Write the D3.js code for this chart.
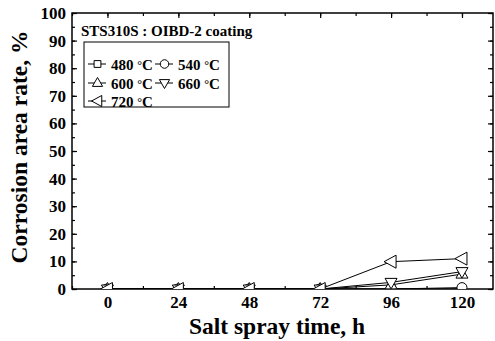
<!DOCTYPE html>
<html>
<head>
<meta charset="utf-8">
<script src="https://cdn.jsdelivr.net/npm/d3@7"></script>
<style>
  body { margin: 0; background: #fff; }
  text { font-family: "Liberation Serif", "Times New Roman", serif; font-weight: bold; fill: #000; }
</style>
</head>
<body>
<svg id="chart" width="495" height="341"></svg>
<script>
var hours = [0, 24, 48, 72, 96, 120];
var yTicks = [0, 10, 20, 30, 40, 50, 60, 70, 80, 90, 100];

var s480 = [0, 0, 0, 0, 0, 0];
var s540 = [0, 0, 0, 0, 0, 0.5];
var s600 = [0, 0, 0, 0, 1.5, 5.4];
var s660 = [0, 0, 0, 0, 2.4, 6.3];
var s720 = [0, 0, 0, 0, 9.9, 11];

var series = [
  { name: "480", shape: "square", values: s480 },
  { name: "540", shape: "circle", values: s540 },
  { name: "600", shape: "up", values: s600 },
  { name: "660", shape: "down", values: s660 },
  { name: "720", shape: "left", values: s720 }
];

var svg = d3.select("#chart");
var pLeft = 72, pRight = 493, pTop = 13, pBottom = 289;

var x = d3.scaleLinear().domain([-12, 130.5]).range([pLeft, pRight]);
var y = d3.scaleLinear().domain([0, 100]).range([pBottom, pTop]);

function markerPath(shape, k) {
  if (shape == "square") return "M" + (-4 * k) + "," + (-4 * k) + "h" + (8 * k) + "v" + (8 * k) + "h" + (-8 * k) + "Z";
  if (shape == "up") return "M0," + (-6.5 * k) + "L" + (6 * k) + "," + (4 * k) + "H" + (-6 * k) + "Z";
  if (shape == "down") return "M0," + (6.5 * k) + "L" + (6 * k) + "," + (-4 * k) + "H" + (-6 * k) + "Z";
  if (shape == "left") return "M" + (-7 * k) + ",0L" + (5 * k) + "," + (-6.5 * k) + "V" + (6.5 * k) + "Z";
  return null;
}

function drawMarker(g, shape, k) {
  if (shape == "circle") {
    g.append("circle").attr("r", 5 * k)
      .attr("fill", "#fff").attr("stroke", "#000").attr("stroke-width", 1);
  } else {
    g.append("path").attr("d", markerPath(shape, k))
      .attr("fill", "#fff").attr("stroke", "#000").attr("stroke-width", 1);
  }
}

svg.append("clipPath").attr("id", "plotclip")
  .append("rect").attr("x", pLeft).attr("y", pTop).attr("width", pRight - pLeft).attr("height", pBottom - pTop);

// axes (ticks inward on all four sides)
var xMinor = d3.range(-12, 131, 12);
var yMinor = d3.range(0, 101, 5);

svg.append("g").attr("transform", "translate(0," + pBottom + ")")
  .call(d3.axisBottom(x).tickValues(xMinor).tickSize(-3).tickFormat(""));
svg.append("g").attr("class", "lab").attr("transform", "translate(0," + pBottom + ")")
  .call(d3.axisBottom(x).tickValues(hours).tickSize(-5).tickPadding(7).tickFormat(d3.format("d")));
svg.append("g").attr("transform", "translate(0," + pTop + ")")
  .call(d3.axisTop(x).tickValues(xMinor).tickSize(-3).tickFormat(""));
svg.append("g").attr("transform", "translate(0," + pTop + ")")
  .call(d3.axisTop(x).tickValues(hours).tickSize(-5).tickFormat(""));

svg.append("g").attr("transform", "translate(" + pLeft + ",0)")
  .call(d3.axisLeft(y).tickValues(yMinor).tickSize(-3).tickFormat(""));
svg.append("g").attr("class", "lab").attr("transform", "translate(" + pLeft + ",0)")
  .call(d3.axisLeft(y).tickValues(yTicks).tickSize(-5).tickPadding(6).tickFormat(d3.format("d")));
svg.append("g").attr("transform", "translate(" + pRight + ",0)")
  .call(d3.axisRight(y).tickValues(yMinor).tickSize(-3).tickFormat(""));
svg.append("g").attr("transform", "translate(" + pRight + ",0)")
  .call(d3.axisRight(y).tickValues(yTicks).tickSize(-5).tickFormat(""));

svg.selectAll(".domain").remove();
svg.selectAll(".tick line").attr("stroke", "#000").attr("stroke-width", 1.2);
svg.selectAll(".lab .tick text").style("font-size", "17px").style("font-family", "Liberation Serif").style("font-weight", "bold");

svg.append("rect").attr("x", pLeft).attr("y", pTop).attr("width", pRight - pLeft).attr("height", pBottom - pTop)
  .attr("fill", "none").attr("stroke", "#000").attr("stroke-width", 1.5);

// data
var plot = svg.append("g").attr("clip-path", "url(#plotclip)");
var line = d3.line().x(function(d, i) { return x(hours[i]); }).y(function(d) { return y(d); });

plot.selectAll("path.series")
  .data(series)
  .enter().append("path")
  .attr("class", "series")
  .attr("d", function(d) { return line(d.values); })
  .attr("fill", "none").attr("stroke", "#000").attr("stroke-width", 1);

series.forEach(function(s) {
  s.values.forEach(function(v, i) {
    var g = plot.append("g").attr("transform", "translate(" + x(hours[i]) + "," + y(v) + ")");
    drawMarker(g, s.shape, 1);
  });
});

// legend
svg.append("text").attr("x", 81).attr("y", 36).style("font-size", "15px").text("STS310S : OIBD-2 coating");
svg.append("rect").attr("x", 84).attr("y", 42).attr("width", 145).attr("height", 65)
  .attr("fill", "#fff").attr("stroke", "#000").attr("stroke-width", 1);

var legendPos = [[88, 64], [155, 64], [88, 83], [155, 83], [88, 101]];
series.forEach(function(s, i) {
  var p = legendPos[i];
  var g = svg.append("g").attr("transform", "translate(" + p[0] + "," + p[1] + ")");
  g.append("line").attr("x1", 0).attr("x2", 18).attr("y1", 0).attr("y2", 0).attr("stroke", "#000");
  var m = g.append("g").attr("transform", "translate(9.5,0)");
  drawMarker(m, s.shape, 0.85);
  var t = g.append("text").attr("x", 23).attr("y", 5.5).style("font-size", "15px");
  t.append("tspan").text(s.name + " ");
  t.append("tspan").attr("dy", -1).style("font-size", "12px").text("\u00B0");
  t.append("tspan").attr("dy", 1).text("C");
});

// axis titles
svg.append("text").attr("x", 277).attr("y", 334).attr("text-anchor", "middle")
  .style("font-size", "23.5px").text("Salt spray time, h");
svg.append("text").attr("transform", "translate(27,147) rotate(-90)").attr("text-anchor", "middle")
  .style("font-size", "23.5px").text("Corrosion area rate, %");
</script>
</body>
</html>
